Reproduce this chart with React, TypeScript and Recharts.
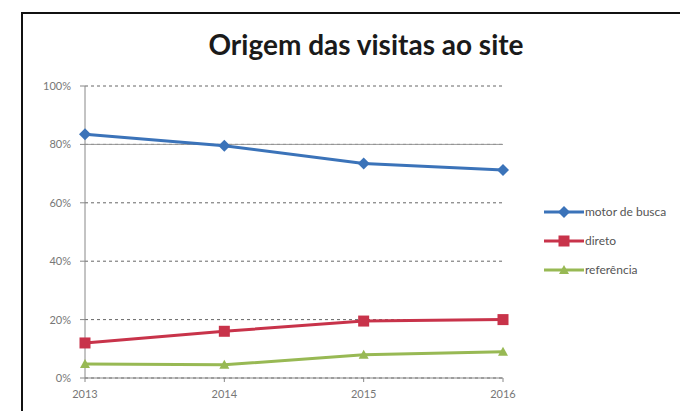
import { LineChart, Line, XAxis, YAxis, CartesianGrid, ReferenceLine } from "recharts";

const years = ["2013", "2014", "2015", "2016"];
const motorDeBusca = [0.835, 0.795, 0.735, 0.712];
const direto = [0.12, 0.16, 0.195, 0.2];
const referencia = [0.048, 0.045, 0.08, 0.09];
const yTicks = [0, 0.2, 0.4, 0.6, 0.8, 1];

const series = [
  { key: "motor", name: "motor de busca", color: "#3b73b9", shape: "diamond" },
  { key: "direto", name: "direto", color: "#c8334a", shape: "square" },
  { key: "ref", name: "referência", color: "#98b954", shape: "triangle" },
];

const data = years.map((year, i) => ({
  year,
  motor: motorDeBusca[i],
  direto: direto[i],
  ref: referencia[i],
}));

function Marker({ cx, cy, color, shape }: any) {
  if (cx == null || cy == null) return null;
  if (shape === "square") {
    return <rect x={cx - 5.5} y={cy - 5.5} width={11} height={11} fill={color} />;
  }
  if (shape === "triangle") {
    return <path d={`M${cx},${cy - 5} L${cx + 5},${cy + 4} L${cx - 5},${cy + 4} Z`} fill={color} />;
  }
  return <path d={`M${cx},${cy - 6} L${cx + 6},${cy} L${cx},${cy + 6} L${cx - 6},${cy} Z`} fill={color} />;
}

// legend sits to the right of the plot, drawn as plain html
function LegendBox() {
  return (
    <div
      style={{
        position: "absolute", left: 544, top: 197,
        fontFamily: "Lato, 'Open Sans', sans-serif", fontSize: 12, color: "#555",
      }}
    >
      {series.map((s) => (
        <div key={s.key} style={{ display: "flex", alignItems: "center", height: 29, whiteSpace: "nowrap" }}>
          <svg width={40} height={14}>
            <line x1={0} y1={7} x2={40} y2={7} stroke={s.color} strokeWidth={3} />
            <Marker cx={20} cy={7} color={s.color} shape={s.shape} />
          </svg>
          <span style={{ marginLeft: 1 }}>{s.name}</span>
        </div>
      ))}
    </div>
  );
}

export default function App() {
  const tickStyle = { fontSize: 11, fill: "#777", fontFamily: "Lato, 'Open Sans', sans-serif" };
  return (
    <div style={{ position: "absolute", left: 0, top: 0, width: 680, height: 411, background: "#fff", overflow: "hidden" }}>
      <div
        style={{
          position: "absolute", left: 21, top: 12, width: 720, height: 440,
          border: "2px solid #111", boxSizing: "border-box",
        }}
      />
      <div
        style={{
          position: "absolute", left: 0, width: 732, top: 27, textAlign: "center",
          fontFamily: "Lato, 'Open Sans', sans-serif", fontWeight: 700, fontSize: 28, color: "#1a1a1a",
        }}
      >
        Origem das visitas ao site
      </div>
      <LineChart width={680} height={411} data={data} margin={{ top: 86, right: 177, bottom: 13, left: 0 }}>
        <CartesianGrid vertical={false} stroke="#666" strokeDasharray="3 3" />
        <ReferenceLine y={0.8} stroke="#999" strokeWidth={1} />
        <XAxis
          dataKey="year"
          height={20}
          tick={tickStyle}
          tickSize={4}
          stroke="#888"
          tickMargin={8}
        />
        <YAxis
          width={85}
          domain={[0, 1]}
          ticks={yTicks}
          tickFormatter={(v: number) => `${Math.round(v * 100)}%`}
          tick={tickStyle}
          tickSize={5}
          tickMargin={9}
          stroke="#888"
        />
        {series.map((s) => (
          <Line
            key={s.key}
            dataKey={s.key}
            name={s.name}
            stroke={s.color}
            strokeWidth={3}
            isAnimationActive={false}
            dot={(p: any) => <Marker key={`${s.key}-${p.index}`} cx={p.cx} cy={p.cy} color={s.color} shape={s.shape} />}
            activeDot={false}
          />
        ))}
      </LineChart>
      <LegendBox />
    </div>
  );
}
